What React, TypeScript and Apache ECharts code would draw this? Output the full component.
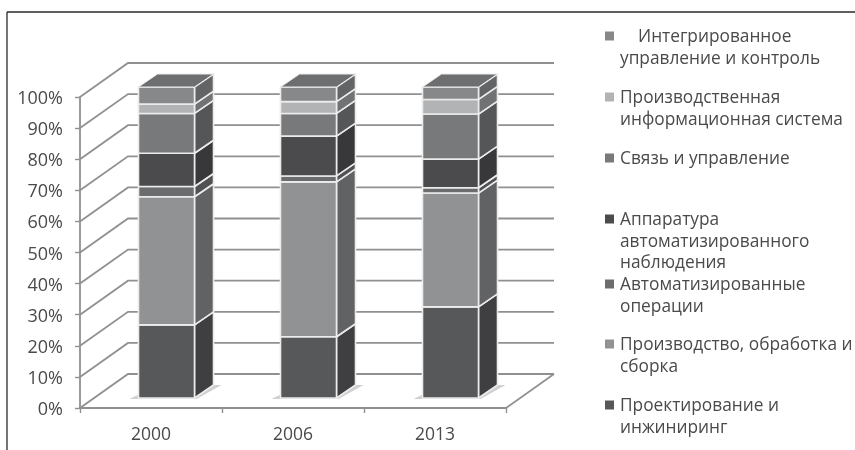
import React, { useEffect, useRef } from "react";
import * as echarts from "echarts";

const categories = ["2000", "2006", "2013"];
const yTicks = [0, 10, 20, 30, 40, 50, 60, 70, 80, 90, 100];

const design = [23.5, 19.7, 29.3];
const production = [41.2, 49.8, 36.6];
const automatedOps = [3.3, 1.9, 1.7];
const surveillance = [10.7, 12.8, 9.2];
const comms = [12.8, 7.3, 14.5];
const infoSystem = [3.0, 3.8, 4.7];
const integrated = [5.5, 4.7, 4.0];

const stackValues = [design, production, automatedOps, surveillance, comms, infoSystem, integrated];
const frontColors = ["#57585a", "#919294", "#6b6c6e", "#4b4b4d", "#78797b", "#b2b3b5", "#87888a"];
const sideColors = ["#3f3f41", "#616264", "#505153", "#38383a", "#555658", "#717274", "#636466"];
const topColor = "#6d6e70";

const legendLines = [
  ["Интегрированное", "управление и контроль"],
  ["Производственная", "информационная система"],
  ["Связь и управление"],
  ["Аппаратура", "автоматизированного", "наблюдения"],
  ["Автоматизированные", "операции"],
  ["Производство, обработка и", "сборка"],
  ["Проектирование и", "инжиниринг"],
];
const legendColors = ["#87888a", "#b2b3b5", "#78797b", "#4b4b4d", "#6b6c6e", "#919294", "#57585a"];
const legendY = [36, 97, 158, 219, 284, 344, 405];
const legendLeading = [22, 22, 22, 21.5, 21.5, 22, 22];

const FONT = '"Open Sans", sans-serif';
const TEXT = "#4a4a4a";
const WALL_DX = 48;
const WALL_DY = -34;
const BAR_SHIFT = 15.5;
const BAR_HALF = 28;
const BAR_LIFT = 10;
const DEPTH_X = 19;
const DEPTH_Y = -13;
const EDGE = "#ececec";
const GRID = "#909090";

function wallItem(params: any, api: any) {
  const cs = params.coordSys;
  const v = api.value(1);
  const y = api.coord([0, v])[1];
  const x0 = cs.x;
  const x1 = cs.x + cs.width;
  const style = { stroke: GRID, lineWidth: 1.8, fill: "none" };
  const children: any[] = [
    {
      type: "polyline",
      shape: { points: [[x0, y], [x0 + WALL_DX, y + WALL_DY], [x1 + WALL_DX, y + WALL_DY]] },
      style,
    },
  ];
  if (v === 0) {
    children.push({
      type: "line",
      shape: { x1, y1: y, x2: x1 + WALL_DX, y2: y + WALL_DY },
      style,
    });
  }
  return { type: "group", children };
}

function barItem(seriesIndex: number) {
  return (_params: any, api: any) => {
    const i = api.value(0);
    const value = api.value(1);
    let base = 0;
    for (let s = 0; s < seriesIndex; s++) base += stackValues[s][i];
    const xc = api.coord([i, 0])[0] + BAR_SHIFT;
    const yb = api.coord([i, base])[1] - BAR_LIFT;
    const yt = api.coord([i, base + value])[1] - BAR_LIFT;
    const xl = xc - BAR_HALF;
    const xr = xc + BAR_HALF;
    const style = (fill: string) => ({ fill, stroke: EDGE, lineWidth: 1.6, lineJoin: "round" });
    const children: any[] = [];
    if (seriesIndex === 0) {
      children.push({
        type: "polygon",
        shape: {
          points: [
            [xl - 9, yb + 1],
            [xr + 2, yb + 1],
            [xr + DEPTH_X + 8, yb + DEPTH_Y],
            [xl + DEPTH_X, yb + DEPTH_Y],
          ],
        },
        style: { fill: "#d0d0d0" },
      });
    }
    children.push({
      type: "polygon",
      shape: {
        points: [
          [xr, yb],
          [xr + DEPTH_X, yb + DEPTH_Y],
          [xr + DEPTH_X, yt + DEPTH_Y],
          [xr, yt],
        ],
      },
      style: style(sideColors[seriesIndex]),
    });
    children.push({
      type: "polygon",
      shape: { points: [[xl, yb], [xr, yb], [xr, yt], [xl, yt]] },
      style: style(frontColors[seriesIndex]),
    });
    if (seriesIndex === stackValues.length - 1) {
      children.push({
        type: "polygon",
        shape: {
          points: [
            [xl, yt],
            [xr, yt],
            [xr + DEPTH_X, yt + DEPTH_Y],
            [xl + DEPTH_X, yt + DEPTH_Y],
          ],
        },
        style: { fill: topColor, stroke: EDGE, lineWidth: 1 },
      });
    }
    return { type: "group", children };
  };
}

function legendGraphics() {
  const out: any[] = [];
  legendLines.forEach((lines, k) => {
    const y0 = legendY[k];
    out.push({
      type: "rect",
      shape: { x: 605, y: y0 - 4.5, width: 9, height: 9 },
      style: { fill: legendColors[k] },
    });
    lines.forEach((line, j) => {
      out.push({
        type: "text",
        x: k === 0 && j === 0 ? 638 : 620,
        y: y0 - 0.5 + j * legendLeading[k],
        style: {
          text: line,
          fill: TEXT,
          font: `17.3px ${FONT}`,
          textVerticalAlign: "middle",
        },
      });
    });
  });
  out.push(
    { type: "line", shape: { x1: 7, y1: 12, x2: 855, y2: 12 }, style: { stroke: "#2a2a2a", lineWidth: 1.3 } },
    { type: "line", shape: { x1: 7, y1: 12, x2: 7, y2: 450 }, style: { stroke: "#2a2a2a", lineWidth: 1.3 } }
  );
  return out;
}

export default function App() {
  const ref = useRef<HTMLDivElement>(null);
  useEffect(() => {
    document.body.style.margin = "0";
    const chart = echarts.init(ref.current!, undefined, { renderer: "svg" });
    chart.setOption({
      animation: false,
      backgroundColor: "#ffffff",
      grid: { left: 80, top: 97, width: 426, height: 311 },
      xAxis: {
        type: "category",
        data: categories,
        axisLine: { lineStyle: { color: GRID, width: 1.8 } },
        axisTick: { show: true, length: 5, lineStyle: { color: GRID, width: 1.4 } },
        axisLabel: { color: TEXT, fontFamily: FONT, fontSize: 17.5, margin: 16 },
      },
      yAxis: {
        type: "value",
        min: 0,
        max: 100,
        interval: 10,
        splitLine: { show: false },
        axisLine: { show: true, lineStyle: { color: GRID, width: 1.8 } },
        axisTick: { show: true, length: 5, lineStyle: { color: GRID, width: 1.4 } },
        axisLabel: { color: TEXT, fontFamily: FONT, fontSize: 18, margin: 17, formatter: "{value}%" },
      },
      graphic: legendGraphics(),
      series: [
        {
          type: "custom",
          coordinateSystem: "cartesian2d",
          renderItem: wallItem,
          encode: { x: 0, y: 1 },
          data: yTicks.map((t) => [0, t]),
          silent: true,
          clip: false,
        },
        ...stackValues.map((vals, s) => ({
          type: "custom",
          coordinateSystem: "cartesian2d",
          renderItem: barItem(s),
          encode: { x: 0, y: 1 },
          data: vals.map((v, i) => [i, v]),
          silent: true,
          clip: false,
        })),
      ],
    });
    return () => chart.dispose();
  }, []);
  return <div ref={ref} style={{ width: 855, height: 450, filter: "blur(0.5px)" }} />;
}
